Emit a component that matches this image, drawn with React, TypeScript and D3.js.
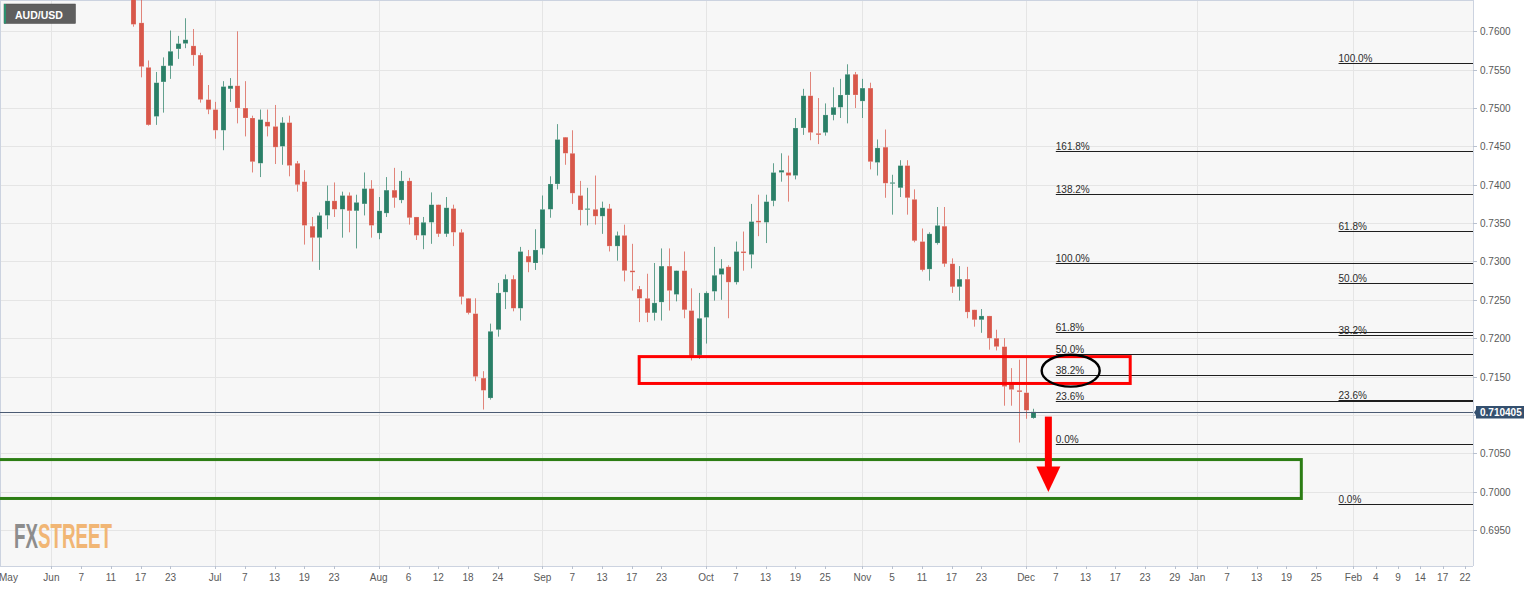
import React from 'react';
import * as d3 from 'd3';

// ---------------- data ----------------
const SYMBOL = 'AUD/USD';
const FIRST_CANDLE = '2021-06-16';
const LAST_PRICE = 0.710405;

const opens = [
  0.7667, 0.7611, 0.7553, 0.7489, 0.7534, 0.7555, 0.7577, 0.7584, 0.7581, 0.7569,
  0.7511, 0.7498, 0.7471, 0.7525, 0.7529, 0.7500, 0.7487, 0.7428, 0.7482, 0.7476,
  0.7450, 0.7481, 0.7428, 0.7404, 0.7346, 0.7331, 0.7360, 0.7379, 0.7368, 0.7386,
  0.7366, 0.7375, 0.7395, 0.7337, 0.7363, 0.7393, 0.7380, 0.7405, 0.7358, 0.7334,
  0.7351, 0.7374, 0.7336, 0.7369, 0.7338, 0.7252, 0.7232, 0.7148, 0.7122, 0.7211,
  0.7260, 0.7277, 0.7239, 0.7307, 0.7298, 0.7317, 0.7368, 0.7401, 0.7462, 0.7441,
  0.7386, 0.7368, 0.7368, 0.7359, 0.7369, 0.7320, 0.7334, 0.7288, 0.7264, 0.7252,
  0.7233, 0.7247, 0.7294, 0.7257, 0.7288, 0.7236, 0.7178, 0.7227, 0.7261, 0.7283,
  0.7293, 0.7273, 0.7313, 0.7309, 0.7353, 0.7351, 0.7379, 0.7416, 0.7416, 0.7412,
  0.7474, 0.7516, 0.7467, 0.7468, 0.7491, 0.7501, 0.7517, 0.7544, 0.7509, 0.7526,
  0.7429, 0.7449, 0.7402, 0.7396, 0.7425, 0.7381, 0.7326, 0.7290, 0.7324, 0.7346,
  0.7297, 0.7267, 0.7277, 0.7237, 0.7224, 0.7229, 0.7200, 0.7189, 0.7143, 0.7132,
  0.7129, 0.7096,
];
const highs = [
  0.7680, 0.7647, 0.7562, 0.7547, 0.7566, 0.7601, 0.7594, 0.7617, 0.7603, 0.7572,
  0.7530, 0.7508, 0.7535, 0.7539, 0.7600, 0.7535, 0.7490, 0.7498, 0.7498, 0.7504,
  0.7488, 0.7490, 0.7431, 0.7419, 0.7358, 0.7364, 0.7399, 0.7403, 0.7391, 0.7390,
  0.7387, 0.7416, 0.7406, 0.7384, 0.7410, 0.7422, 0.7418, 0.7409, 0.7358, 0.7358,
  0.7390, 0.7374, 0.7384, 0.7374, 0.7342, 0.7252, 0.7252, 0.7157, 0.7219, 0.7272,
  0.7283, 0.7282, 0.7319, 0.7315, 0.7342, 0.7386, 0.7411, 0.7479, 0.7462, 0.7471,
  0.7405, 0.7396, 0.7412, 0.7378, 0.7375, 0.7339, 0.7348, 0.7323, 0.7268, 0.7284,
  0.7298, 0.7317, 0.7317, 0.7288, 0.7313, 0.7265, 0.7259, 0.7261, 0.7319, 0.7303,
  0.7295, 0.7326, 0.7339, 0.7375, 0.7387, 0.7387, 0.7428, 0.7441, 0.7438, 0.7487,
  0.7525, 0.7547, 0.7513, 0.7506, 0.7527, 0.7538, 0.7557, 0.7547, 0.7538, 0.7533,
  0.7459, 0.7472, 0.7413, 0.7432, 0.7432, 0.7394, 0.7343, 0.7338, 0.7371, 0.7371,
  0.7304, 0.7294, 0.7293, 0.7237, 0.7238, 0.7229, 0.7211, 0.7200, 0.7161, 0.7172,
  0.7176, 0.7108,
];
const lows = [
  0.7606, 0.7540, 0.7477, 0.7478, 0.7494, 0.7538, 0.7564, 0.7578, 0.7555, 0.7507,
  0.7492, 0.7460, 0.7445, 0.7508, 0.7480, 0.7463, 0.7416, 0.7410, 0.7463, 0.7427,
  0.7426, 0.7411, 0.7391, 0.7322, 0.7300, 0.7289, 0.7342, 0.7358, 0.7331, 0.7338,
  0.7317, 0.7360, 0.7331, 0.7329, 0.7358, 0.7370, 0.7376, 0.7348, 0.7328, 0.7316,
  0.7323, 0.7332, 0.7332, 0.7320, 0.7244, 0.7231, 0.7144, 0.7107, 0.7120, 0.7202,
  0.7238, 0.7235, 0.7223, 0.7286, 0.7289, 0.7309, 0.7357, 0.7394, 0.7426, 0.7375,
  0.7347, 0.7347, 0.7348, 0.7336, 0.7313, 0.7301, 0.7274, 0.7262, 0.7221, 0.7221,
  0.7223, 0.7223, 0.7236, 0.7248, 0.7226, 0.7171, 0.7173, 0.7193, 0.7249, 0.7250,
  0.7226, 0.7270, 0.7288, 0.7291, 0.7333, 0.7324, 0.7372, 0.7404, 0.7378, 0.7407,
  0.7465, 0.7458, 0.7453, 0.7464, 0.7484, 0.7487, 0.7480, 0.7500, 0.7487, 0.7420,
  0.7412, 0.7383, 0.7361, 0.7384, 0.7361, 0.7325, 0.7287, 0.7275, 0.7322, 0.7293,
  0.7259, 0.7249, 0.7226, 0.7215, 0.7207, 0.7185, 0.7184, 0.7112, 0.7112, 0.7064,
  0.7095, 0.7095,
];
const closes = [
  0.7609, 0.7554, 0.7478, 0.7533, 0.7555, 0.7574, 0.7584, 0.7589, 0.7569, 0.7511,
  0.7498, 0.7471, 0.7528, 0.7529, 0.7500, 0.7487, 0.7430, 0.7485, 0.7476, 0.7449,
  0.7481, 0.7425, 0.7400, 0.7347, 0.7331, 0.7360, 0.7379, 0.7368, 0.7386, 0.7366,
  0.7377, 0.7395, 0.7347, 0.7366, 0.7393, 0.7383, 0.7405, 0.7357, 0.7334, 0.7351,
  0.7374, 0.7336, 0.7370, 0.7338, 0.7254, 0.7233, 0.7150, 0.7132, 0.7209, 0.7259,
  0.7277, 0.7239, 0.7313, 0.7299, 0.7315, 0.7368, 0.7401, 0.7459, 0.7441, 0.7389,
  0.7367, 0.7369, 0.7359, 0.7370, 0.7320, 0.7334, 0.7288, 0.7286, 0.7252, 0.7233,
  0.7246, 0.7294, 0.7262, 0.7288, 0.7237, 0.7176, 0.7226, 0.7259, 0.7282, 0.7291,
  0.7273, 0.7313, 0.7311, 0.7352, 0.7351, 0.7378, 0.7416, 0.7419, 0.7412, 0.7474,
  0.7516, 0.7468, 0.7465, 0.7491, 0.7501, 0.7517, 0.7544, 0.7517, 0.7526, 0.7430,
  0.7448, 0.7402, 0.7403, 0.7425, 0.7383, 0.7327, 0.7289, 0.7336, 0.7347, 0.7297,
  0.7267, 0.7277, 0.7234, 0.7224, 0.7229, 0.7200, 0.7189, 0.7137, 0.7133, 0.7130,
  0.7106, 0.7104,
];

const priceTicks = [0.695, 0.7, 0.705, 0.71, 0.715, 0.72, 0.725, 0.73, 0.735, 0.74, 0.745, 0.75, 0.755, 0.76];

const tickDates = [
  '2021-05-03', '2021-06-01', '2021-06-07', '2021-06-11', '2021-06-17', '2021-06-23',
  '2021-07-01', '2021-07-07', '2021-07-13', '2021-07-19', '2021-07-23',
  '2021-08-02', '2021-08-06', '2021-08-12', '2021-08-18', '2021-08-24',
  '2021-09-01', '2021-09-07', '2021-09-13', '2021-09-17', '2021-09-23',
  '2021-10-01', '2021-10-07', '2021-10-13', '2021-10-19', '2021-10-25',
  '2021-11-01', '2021-11-05', '2021-11-11', '2021-11-17', '2021-11-23',
  '2021-12-01', '2021-12-07', '2021-12-13', '2021-12-17', '2021-12-23', '2021-12-29',
  '2022-01-03', '2022-01-07', '2022-01-13', '2022-01-19', '2022-01-25',
  '2022-02-01', '2022-02-04', '2022-02-09', '2022-02-14', '2022-02-17', '2022-02-22',
];
const tickLabels = [
  'May', 'Jun', '7', '11', '17', '23',
  'Jul', '7', '13', '19', '23',
  'Aug', '6', '12', '18', '24',
  'Sep', '7', '13', '17', '23',
  'Oct', '7', '13', '19', '25',
  'Nov', '5', '11', '17', '23',
  'Dec', '7', '13', '17', '23', '29',
  'Jan', '7', '13', '19', '25',
  'Feb', '4', '9', '14', '17', '22',
];

// Fibonacci drawings (swing high / swing low and levels)
const fibLevelsA = [1.618, 1.382, 1.0, 0.618, 0.5, 0.382, 0.236, 0];
const fibSwingA = { from: '2021-12-07', high: 0.7298, low: 0.7062 };
const fibLevelsB = [1.0, 0.618, 0.5, 0.382, 0.236, 0];
const fibSwingB = { from: '2022-01-28', high: 0.7559, low: 0.69845 };

// Annotations
const resistanceBox = { from: '2021-09-20', to: '2021-12-21', top: 0.7176, bottom: 0.7141 };
const targetBox = { from: '2021-05-03', to: '2022-01-21', top: 0.70418, bottom: 0.69911 };
const circled = { at: '2021-12-09', value: 0.71577, halfBars: 3.9, halfValue: 0.00208 };
const arrow = { at: '2021-12-06', top: 0.70978, headTop: 0.70327, tip: 0.69995 };

// ---------------- layout ----------------
const W = 1536;
const H = 589;
const PL = 0;
const PR = 1473;
const PT = 0;
const PB = 566;

const FONT = "'Liberation Sans', Arial, Helvetica, sans-serif";
const GREEN = '#2a7f67';
const RED = '#d8574a';

export default function App() {
  const fmt = d3.timeFormat('%Y-%m-%d');
  const calendar = d3
    .timeDay.range(new Date(2021, 4, 3), new Date(2022, 1, 26))
    .filter((d) => d.getDay() !== 0 && d.getDay() !== 6);
  const keys = calendar.map((d) => fmt(d));
  const idx = new Map<string, number>(keys.map((k, i) => [k, i] as [string, number]));
  const ix = (s: string) => idx.get(s) as number;

  const x = d3.scaleLinear().domain([ix('2021-06-01'), ix('2022-02-22')]).range([51.4, 1465]);
  const y = d3.scaleLinear().domain([0.695, 0.76]).range([530.0, 31.3]);

  const first = ix(FIRST_CANDLE);
  const candles = opens.map((o, i) => ({
    key: keys[first + i],
    i: first + i,
    o,
    h: highs[i],
    l: lows[i],
    c: closes[i],
  }));

  const monthLabel = /^[A-Za-z]/;
  const xTicks = tickDates.map((d, i) => ({ x: x(ix(d)), label: tickLabels[i] }));

  const fibLines = (swing: { from: string; high: number; low: number }, levels: number[]) =>
    levels.map((lv) => {
      const v = swing.low + lv * (swing.high - swing.low);
      return { lv, yy: Math.round(y(v)) + 0.5, x0: x(ix(swing.from)) };
    });
  const fibA = fibLines(fibSwingA, fibLevelsA);
  const fibB = fibLines(fibSwingB, fibLevelsB);

  const priceY = Math.round(y(LAST_PRICE)) + 0.5;

  const rb = {
    x0: x(ix(resistanceBox.from)),
    x1: x(ix(resistanceBox.to)),
    y0: y(resistanceBox.top),
    y1: y(resistanceBox.bottom),
  };
  const gb = {
    x0: x(ix(targetBox.from)),
    x1: x(ix(targetBox.to)),
    y0: y(targetBox.top),
    y1: y(targetBox.bottom),
  };
  const ecx = x(ix(circled.at));
  const erx = x(ix(circled.at) + circled.halfBars) - ecx;
  const ecy = y(circled.value);
  const ery = y(circled.value - circled.halfValue) - ecy;

  const ax = x(ix(arrow.at));
  const aTop = y(arrow.top);
  const aHead = y(arrow.headTop);
  const aTip = y(arrow.tip);

  return (
    <svg
      width={W}
      height={H}
      style={{ position: 'absolute', left: 0, top: 0, display: 'block', background: '#ffffff' }}
      fontFamily={FONT}
    >
      <defs>
        <clipPath id="plot">
          <rect x={PL} y={PT} width={PR - PL} height={PB - PT} />
        </clipPath>
      </defs>

      {/* plot background */}
      <rect x={PL} y={PT} width={PR - PL} height={PB - PT} fill="#f7f7f7" />

      {/* grid */}
      <g clipPath="url(#plot)">
        {priceTicks.map((t) => (
          <line
            key={'h' + t}
            x1={PL}
            x2={PR}
            y1={Math.round(y(t)) + 0.5}
            y2={Math.round(y(t)) + 0.5}
            stroke="#e5e5e5"
            strokeWidth={1}
          />
        ))}
        {xTicks
          .filter((t) => monthLabel.test(t.label) && t.x > 0)
          .map((t) => (
            <line
              key={'v' + t.x}
              x1={Math.round(t.x) + 0.5}
              x2={Math.round(t.x) + 0.5}
              y1={PT}
              y2={PB}
              stroke="#e5e5e5"
              strokeWidth={1}
            />
          ))}
      </g>

      {/* borders */}
      <line x1={PL + 0.5} x2={PL + 0.5} y1={PT} y2={PB} stroke="#ccd3e0" />
      <line x1={PL} x2={PR} y1={PT + 0.5} y2={PT + 0.5} stroke="#ccd3e0" />
      <line x1={PL} x2={PR} y1={PB + 0.5} y2={PB + 0.5} stroke="#ccd3e0" />
      <line x1={PR + 0.5} x2={PR + 0.5} y1={PT} y2={PB} stroke="#ccd3e0" />

      {/* watermark */}
      <g transform="translate(14,548) scale(0.56,1.04)" fontSize={33.5} fontWeight="bold">
        <text x={0} y={0}>
          <tspan fill="#8d8d8d">FX</tspan>
          <tspan fill="#f1b675">STREET</tspan>
        </text>
      </g>

      {/* candles */}
      <g clipPath="url(#plot)">
        {candles.map((d) => {
          const cx = Math.round(x(d.i));
          const up = d.c >= d.o;
          const col = up ? GREEN : RED;
          const yt = y(Math.max(d.o, d.c));
          const yb = y(Math.min(d.o, d.c));
          return (
            <g key={d.key}>
              <line
                x1={cx + 0.5}
                x2={cx + 0.5}
                y1={y(d.h)}
                y2={y(d.l)}
                stroke={col}
                strokeOpacity={0.72}
                strokeWidth={1}
              />
              <rect
                x={cx - 2}
                y={yt}
                width={5}
                height={Math.max(1.2, yb - yt)}
                fill={col}
                stroke="#ffffff"
                strokeOpacity={0.35}
                strokeWidth={0.6}
              />
            </g>
          );
        })}
      </g>

      {/* current price line */}
      <line x1={PL} x2={PR} y1={priceY} y2={priceY} stroke="#4b5b73" strokeWidth={1} />

      {/* fibonacci */}
      <g fontSize={10} fill="#2b2b2b">
        {[...fibA, ...fibB].map((f, k) => (
          <g key={'f' + k}>
            <line x1={f.x0} x2={PR} y1={f.yy} y2={f.yy} stroke="#1e1e1e" strokeWidth={1} />
            <text x={f.x0} y={f.yy - 2}>
              {(f.lv * 100).toFixed(1) + '%'}
            </text>
          </g>
        ))}
      </g>

      {/* annotations */}
      <g clipPath="url(#plot)">
        <rect
          x={rb.x0}
          y={rb.y0}
          width={rb.x1 - rb.x0}
          height={rb.y1 - rb.y0}
          fill="none"
          stroke="#ff0000"
          strokeWidth={3}
        />
        <rect
          x={gb.x0}
          y={gb.y0}
          width={gb.x1 - gb.x0}
          height={gb.y1 - gb.y0}
          fill="none"
          stroke="#2c7d14"
          strokeWidth={3}
        />
        <ellipse cx={ecx} cy={ecy} rx={erx} ry={ery} fill="none" stroke="#000000" strokeWidth={2.4} />
        <rect x={ax - 3.5} y={aTop} width={7} height={aHead - aTop + 1} fill="#ff0000" />
        <path d={`M${ax - 12},${aHead} L${ax + 12},${aHead} L${ax},${aTip} Z`} fill="#ff0000" />
      </g>

      {/* right axis (the label under the last-price tag is hidden, as in the source) */}
      <g fontSize={10} fill="#5a5a5a">
        {priceTicks.map((t) => {
          const yy = Math.round(y(t)) + 0.5;
          const hidden = Math.abs(yy - priceY) < 11;
          return (
            <g key={'r' + t}>
              <line x1={PR} x2={PR + 4} y1={yy} y2={yy} stroke="#b9c1cf" />
              {hidden ? null : (
                <text x={PR + 7} y={yy + 3.5}>
                  {t.toFixed(4)}
                </text>
              )}
            </g>
          );
        })}
      </g>

      {/* last price label */}
      <path
        d={`M${PR + 1},${priceY} L${PR + 3},${priceY - 3} L${PR + 3},${priceY - 6.5} L${PR + 51},${priceY - 6.5} L${PR + 51},${priceY + 6} L${PR + 3},${priceY + 6} L${PR + 3},${priceY + 3} Z`}
        fill="#34506f"
      />
      <text x={PR + 7} y={priceY + 3.8} fontSize={10} fontWeight="bold" fill="#ffffff">
        {LAST_PRICE.toFixed(6)}
      </text>

      {/* bottom axis */}
      <g fontSize={10} fill="#5a5a5a">
        {xTicks.map((t, k) =>
          t.x < 5 ? (
            <text key={'x' + k} x={-1} y={581} textAnchor="start">
              {t.label}
            </text>
          ) : (
            <g key={'x' + k}>
              <line x1={Math.round(t.x) + 0.5} x2={Math.round(t.x) + 0.5} y1={PB} y2={PB + 3} stroke="#b9c1cf" />
              <text x={t.x} y={581} textAnchor="middle">
                {t.label}
              </text>
            </g>
          )
        )}
      </g>

      {/* symbol label */}
      <rect x={4} y={4} width={71.5} height={19.5} fill="#5f5f5f" stroke="#4a4a4a" strokeWidth={0.5} />
      <rect x={4} y={4} width={2} height={19.5} fill="#2a8f6e" />
      <text x={15} y={18.5} fontSize={10.5} fontWeight="bold" fill="#ffffff">
        {SYMBOL}
      </text>
    </svg>
  );
}
